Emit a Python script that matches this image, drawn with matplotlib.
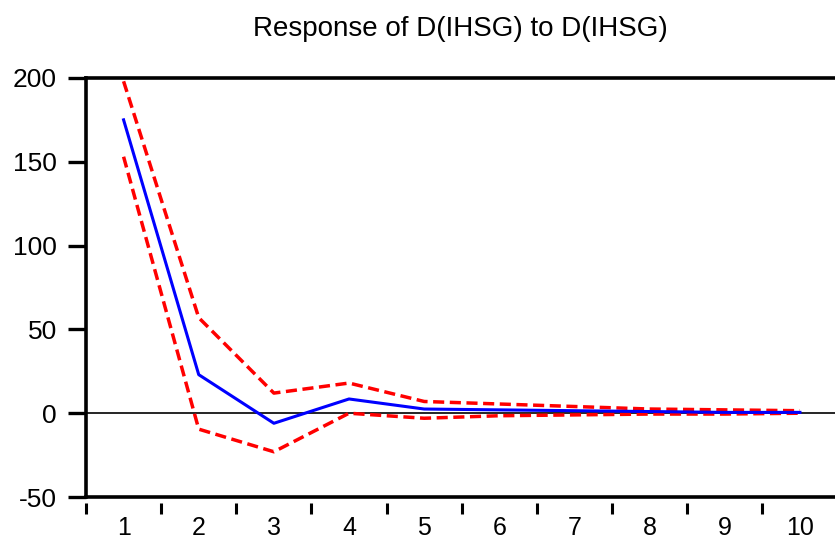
import matplotlib
matplotlib.use("Agg")
import matplotlib.pyplot as plt

# impulse response periods and values
periods = [1, 2, 3, 4, 5, 6, 7, 8, 9, 10]
response = [175, 23, -6, 8.5, 2.5, 2, 1.5, 1, 0.5, 0.5]
upper_band = [198, 57, 12, 18, 7, 5.5, 4, 2.5, 2, 1.5]
lower_band = [153, -9.5, -23, 0, -3, -1.5, -1, -0.5, -0.5, 0]

y_ticks = [-50, 0, 50, 100, 150, 200]

plt.rcParams['font.family'] = ['Liberation Sans', 'DejaVu Sans']

fig = plt.figure(figsize=(8.35, 5.45), dpi=100)
ax = fig.add_axes([0.103, 0.088, 0.9, 0.769])

ax.axhline(0, color='black', linewidth=1.2, zorder=1)
ax.plot(periods, upper_band, color='#ff0000', linewidth=2.5, dashes=(3.2, 1.6), zorder=2)
ax.plot(periods, lower_band, color='#ff0000', linewidth=2.5, dashes=(3.2, 1.6), zorder=2)
ax.plot(periods, response, color='#0000ff', linewidth=2.2, zorder=3)

ax.set_xlim(0.5, 10.5)
ax.set_ylim(-50, 200)

# x tick marks sit between periods, labels centred on periods
ax.set_xticks([p + 0.5 for p in [0] + periods[:-1]])
ax.set_xticklabels([])
ax.set_xticks(periods, minor=True)
ax.set_xticklabels([str(p) for p in periods], minor=True)
ax.tick_params(axis='x', which='major', direction='out', length=8, width=2.2, color='black')
ax.tick_params(axis='x', which='minor', length=0, labelsize=18, pad=10)

ax.set_yticks(y_ticks)
ax.set_yticklabels([str(v) for v in y_ticks])
ax.tick_params(axis='y', direction='out', length=13, width=2.4, labelsize=19, pad=8)

# bottom spine: thick line at -50, tick marks pushed down with a gap
ax.spines['bottom'].set_position(('outward', 4))
ax.spines['bottom'].set_visible(False)
ax.axhline(-50, color='black', linewidth=2.6, clip_on=False, zorder=4)
ax.spines['left'].set_linewidth(2.6)
ax.spines['top'].set_linewidth(2.6)
ax.spines['right'].set_visible(False)

fig.text(0.551, 0.947, "Response of D(IHSG) to D(IHSG)", ha='center', va='center', fontsize=20)

fig.savefig("out.png", dpi=100)
